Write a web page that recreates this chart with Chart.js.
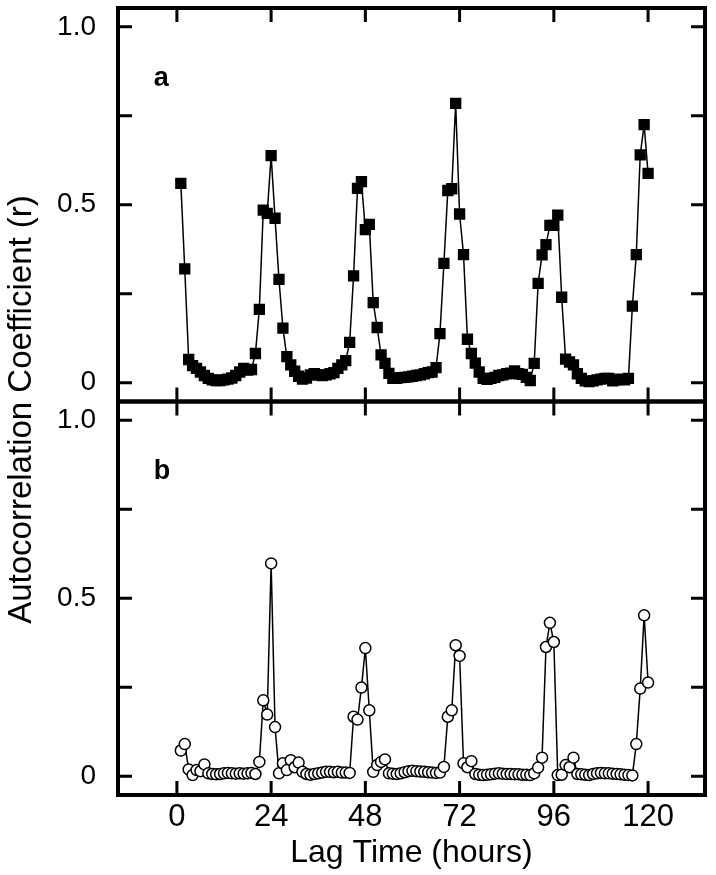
<!DOCTYPE html>
<html>
<head>
<meta charset="utf-8">
<script src="https://cdn.jsdelivr.net/npm/chart.js@4.4.0/dist/chart.umd.min.js"></script>
<style>
  html, body { margin: 0; padding: 0; background: #fff; }
  #wrap { width: 716px; height: 875px; }
</style>
</head>
<body>
<div id="wrap"><canvas id="myChart" width="716" height="875"></canvas></div>
<script>
// lag (hours) and autocorrelation r
var lagHours = [
  1, 2, 3, 4, 5, 6, 7, 8, 9, 10, 11, 12, 13, 14, 15, 16, 17, 18, 19, 20, 21, 22, 23, 24,
  25, 26, 27, 28, 29, 30, 31, 32, 33, 34, 35, 36, 37, 38, 39, 40, 41, 42, 43, 44, 45, 46, 47, 48,
  49, 50, 51, 52, 53, 54, 55, 56, 57, 58, 59, 60, 61, 62, 63, 64, 65, 66, 67, 68, 69, 70, 71, 72,
  73, 74, 75, 76, 77, 78, 79, 80, 81, 82, 83, 84, 85, 86, 87, 88, 89, 90, 91, 92, 93, 94, 95, 96,
  97, 98, 99, 100, 101, 102, 103, 104, 105, 106, 107, 108, 109, 110, 111, 112, 113, 114, 115, 116, 117, 118, 119, 120
];
var panelA = [
  0.56, 0.32, 0.065, 0.048, 0.04, 0.03, 0.02, 0.012, 0.008, 0.006, 0.006, 0.008, 0.01, 0.013, 0.02, 0.03, 0.04, 0.035, 0.037, 0.082, 0.206, 0.485, 0.476, 0.638,
  0.462, 0.29, 0.153, 0.073, 0.05, 0.032, 0.018, 0.01, 0.013, 0.022, 0.025, 0.022, 0.02, 0.022, 0.025, 0.028, 0.04, 0.05, 0.062, 0.113, 0.30, 0.546, 0.565, 0.43,
  0.445, 0.225, 0.155, 0.078, 0.054, 0.026, 0.012, 0.012, 0.014, 0.015, 0.016, 0.018, 0.02, 0.022, 0.025, 0.028, 0.03, 0.042, 0.138, 0.335, 0.54, 0.545, 0.785, 0.474,
  0.36, 0.122, 0.082, 0.055, 0.03, 0.012, 0.009, 0.012, 0.015, 0.02, 0.022, 0.025, 0.027, 0.033, 0.025, 0.023, 0.015, 0.006, 0.054, 0.279, 0.359, 0.388, 0.442, 0.442,
  0.471, 0.24, 0.066, 0.058, 0.05, 0.025, 0.012, 0.005, 0.003, 0.005, 0.008, 0.01, 0.012, 0.012, 0.005, 0.008, 0.01, 0.008, 0.012, 0.215, 0.36, 0.64, 0.725, 0.588
];
var panelB = [
  0.072, 0.09, 0.019, 0.003, 0.017, 0.014, 0.033, 0.008, 0.006, 0.005, 0.006, 0.008, 0.009, 0.008, 0.007, 0.008, 0.007, 0.008, 0.009, 0.006, 0.04, 0.213, 0.173, 0.598,
  0.138, 0.008, 0.036, 0.017, 0.045, 0.025, 0.038, 0.012, 0.006, 0.004, 0.006, 0.008, 0.01, 0.012, 0.012, 0.011, 0.012, 0.01, 0.01, 0.009, 0.167, 0.159, 0.249, 0.36,
  0.185, 0.012, 0.031, 0.04, 0.047, 0.008, 0.007, 0.006, 0.008, 0.011, 0.014, 0.015, 0.014, 0.013, 0.012, 0.011, 0.01, 0.009, 0.01, 0.026, 0.167, 0.185, 0.368, 0.338,
  0.036, 0.025, 0.042, 0.006, 0.004, 0.003, 0.004, 0.005, 0.007, 0.008, 0.007, 0.006, 0.006, 0.005, 0.005, 0.004, 0.004, 0.003, 0.008, 0.024, 0.052, 0.363, 0.431, 0.377,
  0.003, 0.004, 0.031, 0.025, 0.052, 0.006, 0.005, 0.004, 0.003, 0.006, 0.008, 0.009, 0.008, 0.008, 0.007, 0.006, 0.005, 0.004, 0.003, 0.002, 0.09, 0.246, 0.452, 0.263
];
var xTicks = [0, 24, 48, 72, 96, 120];
var yTicks = [0, 0.25, 0.5, 0.75, 1];
var yTickLabels = ["0", "", "0.5", "", "1.0"];
var panelLetters = ["a", "b"];

var FONT = '"Liberation Sans", Arial, sans-serif';

function points(values) {
	return lagHours.map(function (h, i) {
		return { x: h, y: values[i] };
	});
}

function yScale(weight) {
	return {
		type: "linear",
		position: "left",
		stack: "panels",
		stackWeight: 1,
		weight: weight,
		min: -0.053,
		max: 1.053,
		grid: { display: false },
		border: { display: false },
		afterBuildTicks: function (s) {
			s.ticks = yTicks.map(function (v) { return { value: v }; });
		},
		afterFit: function (s) {
			s.width = 118;
			s.paddingTop = 0;
			s.paddingBottom = 0;
		},
		ticks: {
			color: "#000",
			padding: 14,
			font: { family: FONT, size: 28 },
			callback: function (v) { return yTickLabels[yTicks.indexOf(v)]; },
		},
	};
}

// panel frames, inward ticks, panel letters, shared y title
var framePlugin = {
	id: "frame",
	afterDatasetsDraw: function (chart) {
		var ctx = chart.ctx;
		var x = chart.scales.x;
		["yA", "yB"].forEach(function (id, i) {
			var y = chart.scales[id];
			ctx.save();
			ctx.strokeStyle = "#000";
			ctx.lineWidth = 4;
			ctx.strokeRect(x.left, y.top, x.right - x.left, y.bottom - y.top);
			ctx.lineWidth = 3;
			ctx.beginPath();
			xTicks.forEach(function (v) {
				var px = x.getPixelForValue(v);
				ctx.moveTo(px, y.top); ctx.lineTo(px, y.top + 14);
				ctx.moveTo(px, y.bottom); ctx.lineTo(px, y.bottom - 14);
			});
			yTicks.forEach(function (v) {
				var py = y.getPixelForValue(v);
				ctx.moveTo(x.left, py); ctx.lineTo(x.left + 14, py);
				ctx.moveTo(x.right, py); ctx.lineTo(x.right - 14, py);
			});
			ctx.stroke();
			ctx.fillStyle = "#000";
			ctx.font = "bold 27px " + FONT;
			ctx.textAlign = "left";
			ctx.textBaseline = "alphabetic";
			ctx.fillText(panelLetters[i], x.getPixelForValue(-5.9), y.getPixelForValue(0.835));
			ctx.restore();
		});
		var a = chart.chartArea;
		ctx.save();
		ctx.translate(22, (a.top + a.bottom) / 2 + 8);
		ctx.rotate(-Math.PI / 2);
		ctx.fillStyle = "#000";
		ctx.font = "33px " + FONT;
		ctx.textAlign = "center";
		ctx.textBaseline = "middle";
		ctx.fillText("Autocorrelation Coefficient (r)", 0, 0);
		ctx.restore();
	},
};

var config = {
	type: "line",
	data: {
		datasets: [
			{
				label: "a",
				data: points(panelA),
				yAxisID: "yA",
				borderColor: "#000",
				borderWidth: 1.5,
				pointStyle: "rect",
				pointRadius: 8,
				pointBackgroundColor: "#000",
				pointBorderColor: "#000",
				pointBorderWidth: 0,
			},
			{
				label: "b",
				data: points(panelB),
				yAxisID: "yB",
				borderColor: "#000",
				borderWidth: 1.5,
				pointStyle: "circle",
				pointRadius: 5.5,
				pointBackgroundColor: "#fff",
				pointBorderColor: "#000",
				pointBorderWidth: 1.5,
			},
		],
	},
	options: {
		responsive: false,
		animation: false,
		devicePixelRatio: 1,
		layout: { padding: { top: 6, right: 11, left: 0, bottom: 0 } },
		plugins: { legend: { display: false }, tooltip: { enabled: false } },
		scales: {
			x: {
				type: "linear",
				position: "bottom",
				min: -15,
				max: 134.5,
				grid: { display: false },
				border: { display: false },
				afterBuildTicks: function (s) {
					s.ticks = xTicks.map(function (v) { return { value: v }; });
				},
				afterFit: function (s) {
					s.height = 80;
					s.paddingLeft = 0;
					s.paddingRight = 0;
				},
				ticks: {
					color: "#000",
					padding: -4,
					maxRotation: 0,
					font: { family: FONT, size: 31 },
				},
				title: {
					display: true,
					text: "Lag Time (hours)",
					color: "#000",
					font: { family: FONT, size: 32 },
					padding: { top: 0, bottom: 3 },
				},
			},
			yA: yScale(1),
			yB: yScale(0),
		},
	},
	plugins: [framePlugin],
};

var myChart = new Chart(document.getElementById("myChart"), config);
</script>
</body>
</html>
